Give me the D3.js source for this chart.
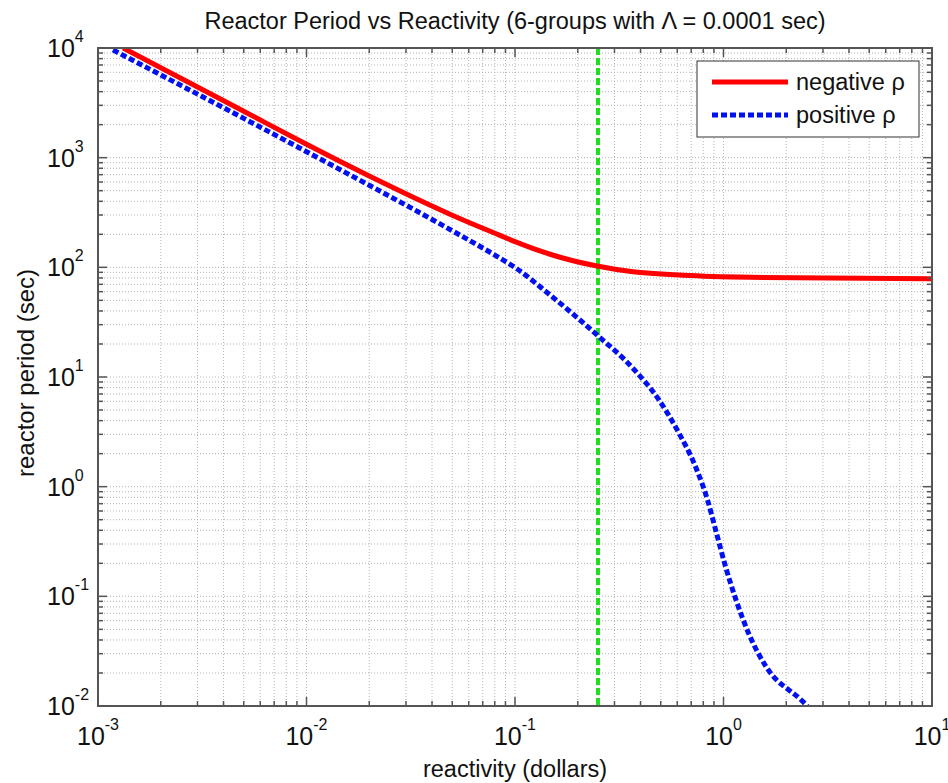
<!DOCTYPE html>
<html>
<head>
<meta charset="utf-8">
<script src="https://cdn.jsdelivr.net/npm/d3@7"></script>
<style>
  body { margin: 0; background: #fff; }
  text { font-family: "Liberation Sans", Arial, sans-serif; fill: #111; }
</style>
</head>
<body>
<div id="chart"></div>
<script>
// values
var rhoNeg    = [0.00132, 0.002, 0.005, 0.01, 0.02, 0.05, 0.0847, 0.1, 0.1472, 0.2473, 0.368, 0.639, 1.34, 10]
var periodNeg = [10000, 6598, 2649, 1325, 681, 299, 195.6, 171.5, 131.6, 102.7, 91.0, 84.6, 81.1, 78.6]

var rhoPos    = [0.00118, 0.002, 0.005, 0.01, 0.02, 0.05, 0.0847, 0.1, 0.1472, 0.2473, 0.368, 0.4904, 0.6117, 0.7338, 0.838, 0.9255, 1.0223, 1.148, 1.318, 1.599, 2.353, 2.528]
var periodPos = [9590, 5686, 2281, 1134, 560, 215.6, 121.3, 99.8, 56.0, 24.2, 12.0, 6.18, 3.07, 1.525, 0.758, 0.377, 0.187, 0.0929, 0.0462, 0.0229, 0.0114, 0.01]

var markerRho = 0.25

var xTickExps = [-3, -2, -1, 0, 1]
var yTickExps = [-2, -1, 0, 1, 2, 3, 4]
var minorMult = [2, 3, 4, 5, 6, 7, 8, 9]

var legendNames = ["negative \u03C1", "positive \u03C1"]

var W = 948, H = 783
var margin = {top: 48, right: 16, bottom: 77, left: 98},
    width = W - margin.left - margin.right,
    height = H - margin.top - margin.bottom

var svg = d3.select("#chart")
  .append("svg")
    .attr("width", W)
    .attr("height", H)

var g = svg.append("g")
    .attr("transform", "translate(" + margin.left + "," + margin.top + ")")

var x = d3.scaleLog()
  .domain([1e-3, 1e1])
  .range([0, width])

var y = d3.scaleLog()
  .domain([1e-2, 1e4])
  .range([height, 0])

// major and minor tick values
function logTicks(exps) {
  var major = exps.map(e => Math.pow(10, e))
  var minor = []
  exps.slice(0, -1).forEach(e => {
    minorMult.forEach(m => minor.push(m * Math.pow(10, e)))
  })
  return {major: major, minor: minor}
}
var xt = logTicks(xTickExps)
var yt = logTicks(yTickExps)

// grid
var grid = g.append("g")
grid.selectAll(".gx")
  .data(xt.minor.concat(xt.major))
  .enter().append("line")
    .attr("x1", d => x(d)).attr("x2", d => x(d))
    .attr("y1", 0).attr("y2", height)
    .attr("stroke", "#b4b4b4")
    .attr("stroke-width", 1)
    .attr("stroke-dasharray", "1,2")
grid.selectAll(".gy")
  .data(yt.minor.concat(yt.major))
  .enter().append("line")
    .attr("y1", d => y(d)).attr("y2", d => y(d))
    .attr("x1", 0).attr("x2", width)
    .attr("stroke", "#b4b4b4")
    .attr("stroke-width", 1)
    .attr("stroke-dasharray", "1,2")

// clip for curves
g.append("clipPath").attr("id", "clip")
  .append("rect").attr("width", width).attr("height", height)

var line = d3.line()
  .x(p => x(p[0]))
  .y(p => y(p[1]))
  .curve(d3.curveMonotoneX)

var curves = g.append("g").attr("clip-path", "url(#clip)")

// vertical marker
curves.append("line")
  .attr("x1", x(markerRho)).attr("x2", x(markerRho))
  .attr("y1", 0).attr("y2", height)
  .attr("stroke", "#1fe01f")
  .attr("stroke-width", 4)
  .attr("stroke-dasharray", "7,3")

curves.append("path")
  .attr("d", line(d3.zip(rhoNeg, periodNeg)))
  .attr("fill", "none")
  .attr("stroke", "#ff0000")
  .attr("stroke-width", 5)

curves.append("path")
  .attr("d", line(d3.zip(rhoPos, periodPos)))
  .attr("fill", "none")
  .attr("stroke", "#0010ee")
  .attr("stroke-width", 5)
  .attr("stroke-dasharray", "6,3")

// box and ticks on all four sides
var axCol = "#555"
g.append("rect")
  .attr("width", width).attr("height", height)
  .attr("fill", "none")
  .attr("stroke", axCol)
  .attr("stroke-width", 2)

function tickLen(d, t) { return t.major.indexOf(d) >= 0 ? 9 : 5 }
var xall = xt.major.concat(xt.minor), yall = yt.major.concat(yt.minor)
var ticks = g.append("g").attr("stroke", axCol).attr("stroke-width", 1.5)
xall.forEach(d => {
  var L = tickLen(d, xt)
  ticks.append("line").attr("x1", x(d)).attr("x2", x(d)).attr("y1", height).attr("y2", height - L)
  ticks.append("line").attr("x1", x(d)).attr("x2", x(d)).attr("y1", 0).attr("y2", L)
})
yall.forEach(d => {
  var L = tickLen(d, yt)
  ticks.append("line").attr("y1", y(d)).attr("y2", y(d)).attr("x1", 0).attr("x2", L)
  ticks.append("line").attr("y1", y(d)).attr("y2", y(d)).attr("x1", width).attr("x2", width - L)
})

// tick labels as 10^n
xTickExps.forEach(e => {
  var t = g.append("text")
    .attr("x", x(Math.pow(10, e)))
    .attr("y", height + 39)
    .attr("text-anchor", "middle")
    .style("font-size", "25px")
  t.append("tspan").text("10")
  t.append("tspan").attr("dy", -15).style("font-size", "16px").text(String(e))
})
yTickExps.forEach(e => {
  var t = g.append("text")
    .attr("x", -51)
    .attr("y", y(Math.pow(10, e)) + 9)
    .style("font-size", "25px")
  t.append("tspan").text("10")
  t.append("tspan").attr("dy", -15).style("font-size", "16px").text(String(e))
})

// titles
svg.append("text")
  .attr("x", margin.left + width / 2)
  .attr("y", 29)
  .attr("text-anchor", "middle")
  .style("font-size", "23.5px")
  .text("Reactor Period vs Reactivity (6-groups with \u039B = 0.0001 sec)")

svg.append("text")
  .attr("x", margin.left + width / 2)
  .attr("y", 777)
  .attr("text-anchor", "middle")
  .style("font-size", "23.5px")
  .text("reactivity (dollars)")

svg.append("text")
  .attr("transform", "translate(34," + (margin.top + height / 2 - 4) + ") rotate(-90)")
  .attr("text-anchor", "middle")
  .style("font-size", "24px")
  .text("reactor period (sec)")

// legend
var lg = svg.append("g").attr("transform", "translate(697,61)")
lg.append("rect")
  .attr("width", 222).attr("height", 76)
  .attr("fill", "#fff")
  .attr("stroke", "#333")
  .attr("stroke-width", 1)
var styles = [{c: "#ff0000", dash: null}, {c: "#0010ee", dash: "6,3"}]
legendNames.forEach((name, i) => {
  var yy = 21 + i * 33
  var l = lg.append("line")
    .attr("x1", 15).attr("x2", 91)
    .attr("y1", yy).attr("y2", yy)
    .attr("stroke", styles[i].c)
    .attr("stroke-width", 5)
  if (styles[i].dash) l.attr("stroke-dasharray", styles[i].dash)
  lg.append("text")
    .attr("x", 99).attr("y", yy + 8)
    .style("font-size", "23.5px")
    .text(name)
})
</script>
</body>
</html>
